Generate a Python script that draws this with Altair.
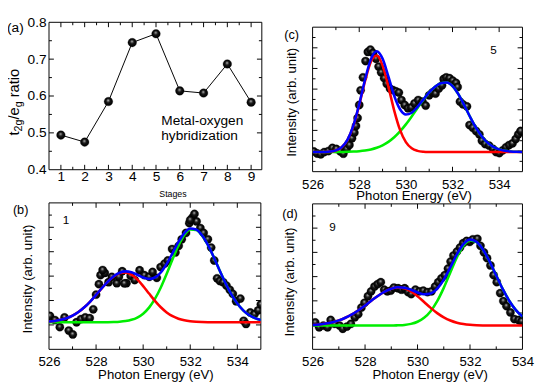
import altair as alt
import pandas as pd

FONT = "Liberation Sans"

# ---------------- (a) t2g/eg ratio vs stage ----------------
stages = [1, 2, 3, 4, 5, 6, 7, 8, 9]
ratio = [0.494, 0.475, 0.585, 0.745, 0.769, 0.614, 0.608, 0.687, 0.583]

# ---------------- spectra energy grids ----------------
energy_535 = [526.0, 526.25, 526.5, 526.75, 527.0, 527.25, 527.5, 527.75, 528.0, 528.25,
              528.5, 528.75, 529.0, 529.25, 529.5, 529.75, 530.0, 530.25, 530.5, 530.75,
              531.0, 531.25, 531.5, 531.75, 532.0, 532.25, 532.5, 532.75, 533.0, 533.25,
              533.5, 533.75, 534.0, 534.25, 534.5, 534.75, 535.0]
energy_534 = [526.0, 526.25, 526.5, 526.75, 527.0, 527.25, 527.5, 527.75, 528.0, 528.25,
              528.5, 528.75, 529.0, 529.25, 529.5, 529.75, 530.0, 530.25, 530.5, 530.75,
              531.0, 531.25, 531.5, 531.75, 532.0, 532.25, 532.5, 532.75, 533.0, 533.25,
              533.5, 533.75, 534.0]

# ---------------- (b) stage 1 ----------------
b_red = [1.139, 1.164, 1.208, 1.277, 1.382, 1.528, 1.722, 1.959, 2.230, 2.511,
         2.773, 2.985, 3.116, 3.147, 3.060, 2.864, 2.591, 2.286, 1.986, 1.724,
         1.514, 1.359, 1.255, 1.189, 1.150, 1.129, 1.119, 1.114, 1.112, 1.11,
         1.11, 1.11, 1.11, 1.11, 1.11, 1.11, 1.11]
b_green = [1.11, 1.11, 1.11, 1.11, 1.11, 1.11, 1.11, 1.11, 1.11, 1.111,
           1.113, 1.119, 1.131, 1.157, 1.209, 1.303, 1.462, 1.710, 2.067, 2.536,
           3.096, 3.695, 4.255, 4.685, 4.909, 4.892, 4.668, 4.276, 3.775, 3.232,
           2.709, 2.249, 1.878, 1.600, 1.405, 1.278, 1.201]
b_blue = [1.139, 1.164, 1.208, 1.277, 1.382, 1.528, 1.722, 1.959, 2.230, 2.512,
          2.776, 2.994, 3.137, 3.194, 3.159, 3.057, 2.943, 2.886, 2.943, 3.150,
          3.500, 3.944, 4.400, 4.764, 4.949, 4.911, 4.677, 4.280, 3.777, 3.232,
          2.709, 2.249, 1.878, 1.600, 1.405, 1.278, 1.201]
b_pts_e = [526.04, 526.25, 526.46, 526.66, 526.84, 527.01, 527.17, 527.36, 527.54, 527.73,
           527.88, 528.0, 528.12, 528.19, 528.37, 528.53, 528.67, 528.88, 528.97, 529.11,
           529.29, 529.47, 529.64, 529.85, 530.05, 530.26, 530.4, 530.58, 530.74, 530.91,
           531.05, 531.23, 531.37, 531.51, 531.64, 531.82, 531.96, 532.1, 532.27, 532.43,
           532.57, 532.75, 532.89, 533.02, 533.14, 533.26, 533.4, 533.54, 533.68, 533.81,
           533.95, 534.13, 534.27, 534.37, 534.55, 534.73, 534.89, 535.0,
           528.28, 529.2, 532.0, 532.18]
b_pts_i = [1.37, 1.20, 0.91, 1.31, 0.77, 0.61, 1.11, 1.24, 1.31, 1.28,
           1.64, 2.24, 2.67, 3.04, 3.13, 2.75, 2.97, 2.71, 2.97, 3.20,
           2.71, 3.01, 2.84, 3.24, 3.04, 2.97, 3.17, 2.93, 3.37, 3.51,
           3.64, 4.11, 3.97, 4.24, 4.51, 4.77, 5.17, 5.41, 5.24, 4.97,
           4.77, 4.51, 4.17, 3.64, 2.91, 2.80, 2.75, 2.61, 2.44, 2.27,
           1.97, 2.08, 1.17, 1.04, 1.51, 1.44, 1.60, 1.84,
           3.25, 2.70, 5.30, 5.55]

# ---------------- (c) stage 5 ----------------
c_red = [0.95, 0.95, 0.955, 0.971, 1.027, 1.183, 1.542, 2.217, 3.228, 4.393,
         5.326, 5.625, 5.148, 4.118, 2.961, 2.022, 1.431, 1.131, 1.007, 0.965,
         0.953, 0.95, 0.95, 0.95, 0.95, 0.95, 0.95, 0.95, 0.95, 0.95,
         0.95, 0.95, 0.95, 0.95, 0.95, 0.95, 0.95]
c_green = [0.95, 0.95, 0.951, 0.951, 0.953, 0.956, 0.962, 0.973, 0.992, 1.025,
           1.077, 1.159, 1.278, 1.445, 1.668, 1.951, 2.290, 2.675, 3.082, 3.482,
           3.840, 4.118, 4.287, 4.325, 4.147, 3.754, 3.227, 2.661, 2.141, 1.717,
           1.407, 1.202, 1.079, 1.011, 0.977, 0.961, 0.954]
c_blue = [0.95, 0.95, 0.956, 0.972, 1.030, 1.189, 1.554, 2.240, 3.270, 4.468,
          5.453, 5.834, 5.476, 4.613, 3.679, 3.023, 2.771, 2.856, 3.139, 3.497,
          3.843, 4.118, 4.287, 4.325, 4.147, 3.754, 3.227, 2.661, 2.141, 1.717,
          1.407, 1.202, 1.079, 1.011, 0.977, 0.961, 0.954]
c_pts_e = [526.05, 526.2, 526.35, 526.5, 526.68, 526.85, 527.02, 527.19, 527.32, 527.46,
           527.58, 527.69, 527.79, 527.86, 527.93, 528.0, 528.06, 528.16, 528.27, 528.37,
           528.48, 528.59, 528.72, 528.83, 528.94, 529.07, 529.18, 529.32, 529.45, 529.58,
           529.7, 529.81, 529.95, 530.09, 530.23, 530.37, 530.53, 530.71, 530.85, 531.0,
           531.13, 531.27, 531.41, 531.55, 531.62, 531.73, 531.87, 532.01, 532.15, 532.22,
           532.32, 532.45, 532.62, 532.73, 532.87, 533.01, 533.15, 533.26, 533.4, 533.57,
           533.74, 533.87, 534.01, 534.15, 534.29, 534.43, 534.57, 534.71, 534.82, 534.92]
c_pts_i = [0.98, 0.88, 0.84, 0.95, 1.00, 1.15, 1.10, 0.98, 0.87, 1.10,
           1.29, 1.62, 1.89, 2.21, 2.60, 3.23, 3.94, 4.57, 5.36, 5.80,
           5.91, 5.75, 5.47, 5.09, 4.81, 4.53, 4.26, 4.02, 3.95, 3.89,
           3.83, 3.47, 3.23, 3.07, 3.11, 3.31, 3.47, 3.39, 3.20, 3.70,
           3.83, 3.78, 4.02, 4.18, 4.49, 4.57, 4.53, 4.41, 4.30, 4.10,
           3.39, 3.26, 3.16, 2.26, 2.13, 1.97, 1.81, 1.50, 1.34, 1.26,
           1.10, 0.95, 0.90, 1.03, 1.18, 1.29, 1.37, 1.58, 1.81, 1.97]

# ---------------- (d) stage 9 ----------------
d_red = [1.006, 1.027, 1.061, 1.115, 1.193, 1.302, 1.442, 1.614, 1.810, 2.016,
         2.213, 2.381, 2.498, 2.549, 2.517, 2.390, 2.190, 1.952, 1.710, 1.493,
         1.318, 1.188, 1.100, 1.044, 1.012, 0.995, 0.987, 0.983, 0.98, 0.98,
         0.98, 0.98, 0.98]
d_green = [0.98, 0.98, 0.98, 0.98, 0.98, 0.98, 0.98, 0.98, 0.98, 0.98,
           0.98, 0.98, 0.98, 0.991, 1.008, 1.050, 1.137, 1.299, 1.574, 1.987,
           2.536, 3.171, 3.794, 4.273, 4.493, 4.418, 4.103, 3.614, 3.043, 2.482,
           1.994, 1.617, 1.351]
d_blue = [1.006, 1.027, 1.061, 1.115, 1.193, 1.302, 1.442, 1.614, 1.810, 2.016,
          2.213, 2.381, 2.498, 2.560, 2.545, 2.460, 2.347, 2.271, 2.304, 2.500,
          2.874, 3.379, 3.914, 4.337, 4.525, 4.433, 4.110, 3.617, 3.043, 2.482,
          1.994, 1.617, 1.351]
d_pts_e = [526.1, 526.25, 526.41, 526.57, 526.69, 526.84, 527.03, 527.15, 527.31, 527.46,
           527.61, 527.74, 527.86, 527.98, 528.11, 528.23, 528.36, 528.48, 528.6, 528.73,
           528.85, 528.98, 529.1, 529.26, 529.39, 529.51, 529.64, 529.76, 529.92, 530.07,
           530.22, 530.38, 530.53, 530.67, 530.79, 530.91, 531.04, 531.16, 531.26, 531.37,
           531.5, 531.62, 531.74, 531.87, 531.99, 532.11, 532.28, 532.4, 532.53, 532.65,
           532.78, 532.9, 533.02, 533.15, 533.27, 533.39, 533.54, 533.69, 533.85, 533.97]
d_pts_i = [1.11, 0.91, 0.98, 0.91, 1.21, 1.05, 0.98, 0.85, 0.94, 1.05,
           1.32, 1.45, 1.72, 1.92, 2.19, 2.39, 2.59, 2.69, 2.77, 2.46,
           2.39, 2.42, 2.55, 2.52, 2.46, 2.52, 2.36, 2.28, 2.46, 2.39,
           2.42, 2.36, 2.39, 2.59, 2.77, 2.93, 3.06, 3.33, 3.62, 3.87,
           4.03, 4.20, 4.38, 4.47, 4.43, 4.54, 4.56, 4.27, 4.00, 3.76,
           3.46, 3.06, 2.77, 2.32, 1.99, 1.78, 1.52, 1.25, 1.21, 1.16]

# tick values
a_x_major = [1, 2, 3, 4, 5, 6, 7, 8, 9]
a_x_minor = [1.5, 2.5, 3.5, 4.5, 5.5, 6.5, 7.5, 8.5]
a_y_major = [0.5, 0.6, 0.7]
a_y_minor = [0.45, 0.55, 0.65, 0.75]
a_y_labels = [0.4, 0.5, 0.6, 0.7, 0.8]
e_labels = [526, 528, 530, 532, 534]
e_minor = [527, 529, 531, 533]
e_major_535 = [528, 530, 532, 534]
e_major_534 = [528, 530, 532]

sphere = alt.RadialGradient(
    gradient="radial",
    stops=[alt.GradientStop(color="#ffffff", offset=0),
           alt.GradientStop(color="#7a7a7a", offset=0.16),
           alt.GradientStop(color="#141414", offset=0.48),
           alt.GradientStop(color="#000000", offset=1)],
    x1=0.45, y1=0.34, r1=0, x2=0.5, y2=0.5, r2=0.5)


def txt(text, x, y, size=13, align="left", angle=0, baseline="alphabetic"):
    return alt.Chart(pd.DataFrame({"t": [text]})).mark_text(
        align=align, baseline=baseline, fontSize=size, font=FONT,
        color="black", angle=angle).encode(text="t:N", x=alt.value(x), y=alt.value(y))


def frame_box(w, top, bottom):
    one = pd.DataFrame({"k": [0]})
    r = dict(color="black", strokeWidth=1)
    return [
        alt.Chart(one).mark_rule(**r).encode(x=alt.value(0), x2=alt.value(w), y=alt.value(top)),
        alt.Chart(one).mark_rule(**r).encode(x=alt.value(0), x2=alt.value(w), y=alt.value(bottom)),
        alt.Chart(one).mark_rule(**r).encode(x=alt.value(0), y=alt.value(top), y2=alt.value(bottom)),
        alt.Chart(one).mark_rule(**r).encode(x=alt.value(w), y=alt.value(top), y2=alt.value(bottom)),
    ]


def frame_ticks(xs, ys, xax, yax, w, top, bottom, xmaj, xmin, ymaj, ymin):
    out = []
    for vals, L in ((xmaj, 5), (xmin, 3)):
        df = pd.DataFrame({"v": vals})
        out.append(alt.Chart(df).mark_rule(color="black", strokeWidth=1).encode(
            x=alt.X("v:Q", scale=xs, axis=xax), y=alt.value(bottom), y2=alt.value(bottom - L)))
        out.append(alt.Chart(df).mark_rule(color="black", strokeWidth=1).encode(
            x=alt.X("v:Q", scale=xs, axis=xax), y=alt.value(top), y2=alt.value(top + L)))
    for vals, L in ((ymaj, 5), (ymin, 3)):
        df = pd.DataFrame({"v": vals})
        out.append(alt.Chart(df).mark_rule(color="black", strokeWidth=1).encode(
            y=alt.Y("v:Q", scale=ys, axis=yax), x=alt.value(0), x2=alt.value(L)))
        out.append(alt.Chart(df).mark_rule(color="black", strokeWidth=1).encode(
            y=alt.Y("v:Q", scale=ys, axis=yax), x=alt.value(w), x2=alt.value(w - L)))
    return out


def spectrum(e_pts, i_pts, e_fit, red, green, blue, xdom, ydom, w, h, top,
             xmaj, xmin, ymaj, ymin, texts):
    xs = alt.Scale(domain=xdom, nice=False, zero=False)
    ys = alt.Scale(domain=ydom, nice=False, zero=False, range=[h, top])
    xax = alt.Axis(values=e_labels, format="d", ticks=False, domain=False, grid=False,
                   labelFontSize=13.5, labelFont=FONT, labelColor="black", labelPadding=6,
                   labelFlush=False, labelOverlap=False, title=None)
    pts = pd.DataFrame({"e": e_pts, "i": i_pts})
    fit = pd.DataFrame({"e": e_fit, "red": red, "green": green, "blue": blue})
    layers = frame_box(w, top, h)
    layers += frame_ticks(xs, ys, xax, None, w, top, h, xmaj, xmin, ymaj, ymin)
    layers.append(alt.Chart(pts).mark_circle(size=72, opacity=1, fill=sphere,
                                             stroke="#000000", strokeWidth=0.3, clip=True).encode(
        x=alt.X("e:Q", scale=xs, axis=xax), y=alt.Y("i:Q", scale=ys, axis=None)))
    for col, colr in (("green", "#00ee00"), ("red", "#ff0000"), ("blue", "#0000ff")):
        layers.append(alt.Chart(fit).mark_line(color=colr, strokeWidth=2.6, clip=True,
                                               interpolate="monotone").encode(
            x=alt.X("e:Q", scale=xs, axis=xax), y=alt.Y(f"{col}:Q", scale=ys, axis=None)))
    layers += texts
    return alt.layer(*layers).properties(width=w, height=h, view={"stroke": "transparent"})


# ---------------- panel (a) ----------------
W_A, H_A = 218, 151
xs_a = alt.Scale(domain=[0.5, 9.45], nice=False, zero=False)
ys_a = alt.Scale(domain=[0.4, 0.8], nice=False, zero=False)
xax_a = alt.Axis(values=a_x_major, format="d", ticks=False, domain=False, grid=False,
                 labelFontSize=14, labelFont=FONT, labelColor="black", labelPadding=0,
                 labelFlush=False, labelOverlap=False, title=None)
yax_a = alt.Axis(values=a_y_labels, format=".1f", ticks=False, domain=False, grid=False,
                 labelFontSize=14, labelFont=FONT, labelColor="black", labelPadding=3,
                 labelFlush=False, labelOverlap=False, title=None)
a_df = pd.DataFrame({"stage": stages, "ratio": ratio})
a_layers = frame_box(W_A, 0, H_A)
a_layers += frame_ticks(xs_a, ys_a, xax_a, yax_a, W_A, 0, H_A,
                        a_x_major, a_x_minor, a_y_major, a_y_minor)
a_layers.append(alt.Chart(a_df).mark_line(color="black", strokeWidth=1).encode(
    x=alt.X("stage:Q", scale=xs_a, axis=xax_a), y=alt.Y("ratio:Q", scale=ys_a, axis=yax_a)))
a_layers.append(alt.Chart(a_df).mark_circle(size=78, opacity=1, fill=sphere,
                                            stroke="#000000", strokeWidth=0.3).encode(
    x=alt.X("stage:Q", scale=xs_a, axis=xax_a), y=alt.Y("ratio:Q", scale=ys_a, axis=yax_a)))
a_layers += [
    txt("(a)", -43, 10, 14),
    txt("t", -31, 116, 15, angle=270),
    txt("2g", -28, 111.8, 11, angle=270),
    txt("/e", -31, 99.6, 15, angle=270),
    txt("g", -28, 87.1, 11, angle=270),
    txt("ratio", -31, 76.8, 15, angle=270),
    txt("Metal-oxygen", 115, 105, 14),
    txt("hybridization", 115, 121, 14),
    txt("Stages", 127, 179, 9, align="center"),
    # invisible anchor fixing the top-left corner of the page
    alt.Chart(pd.DataFrame({"k": [0]})).mark_rule(opacity=0).encode(
        x=alt.value(-49), x2=alt.value(-48), y=alt.value(-17), y2=alt.value(-16)),
]
panel_a = alt.layer(*a_layers).properties(width=W_A, height=H_A, view={"stroke": "transparent"})

panel_b = spectrum(b_pts_e, b_pts_i, energy_535, b_red, b_green, b_blue,
                   [526, 535], [0, 6], 217, 150, 0,
                   e_major_535, e_minor, [1, 2, 3, 4, 5], [0.5, 1.5, 2.5, 3.5, 4.5, 5.5],
                   [txt("(b)", -37, 11, 13), txt("1", 14, 22, 12),
                    txt("Photon Energy (eV)", 109.5, 180, 13.5, align="center"),
                    txt("Intensity (arb. unit)", -17.5, 78, 13.5, align="center", angle=270)])

# panel (c) sits 5 px lower than (a): its view is 153 px tall with the frame from 5 to 153
panel_c = spectrum(c_pts_e, c_pts_i, energy_535, c_red, c_green, c_blue,
                   [526, 535], [0, 7], 215, 153, 5,
                   e_major_535, e_minor, [1, 2, 3, 4, 5, 6],
                   [0.5, 1.5, 2.5, 3.5, 4.5, 5.5, 6.5],
                   [txt("(c)", -29, 17, 13), txt("5", 182, 32, 12),
                    txt("Photon Energy (eV)", 104, 182, 13.5, align="center"),
                    txt("Intensity (arb. unit)", -17.5, 82, 13.5, align="center", angle=270)])

# panel (d) frame from 1 to 150 so it starts one pixel below (b)
panel_d = spectrum(d_pts_e, d_pts_i, energy_534, d_red, d_green, d_blue,
                   [526, 534], [0, 6], 215, 150, 1,
                   e_major_534, e_minor, [1, 2, 3, 4, 5], [0.5, 1.5, 2.5, 3.5, 4.5, 5.5],
                   [txt("(d)", -31, 15, 13), txt("9", 17, 29, 12),
                    txt("Photon Energy (eV)", 120.5, 180, 13.5, align="center"),
                    txt("Intensity (arb. unit)", -19.5, 81, 13.5, align="center", angle=270)])

chart = alt.concat(panel_a, panel_c, panel_b, panel_d, columns=2,
                   spacing={"row": 32, "column": 52}, bounds="flush").properties(
    padding={"left": -8, "top": -8, "right": 8, "bottom": 4},
    background="white",
).configure_view(stroke="transparent").configure_axis(labelFont=FONT)

chart.save("out.html", embed_options={"renderer": "svg", "actions": False})
